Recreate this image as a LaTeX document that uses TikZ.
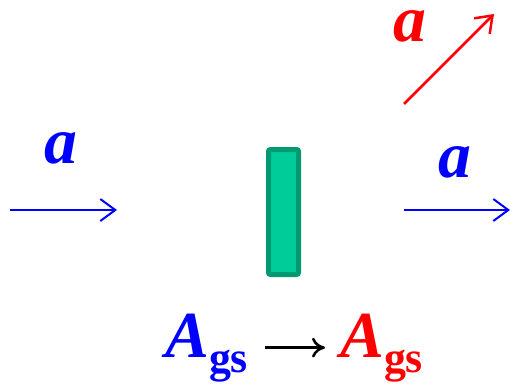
\documentclass[tikz,border=0pt]{standalone}
\usepackage{fontspec}
\setmainfont{Liberation Serif}
\usepackage{tikz}
\usetikzlibrary{arrows.meta,positioning}
\definecolor{slabfill}{HTML}{00CC99}
\definecolor{slabline}{HTML}{009970}

\begin{document}
\begin{tikzpicture}[
      x=1bp, y=-1bp,
      amp/.style={inner sep=0pt, font=\fontsize{66}{70}\selectfont\bfseries\itshape},
      wave/.style={amp, anchor=base, text height=33bp, text depth=0pt},
      ray/.style={-{Straight Barb[length=15bp, width=22bp]}, line width=2bp},
      slab/.style={draw=slabline, fill=slabfill, line width=5bp, rounded corners=2bp},
      gain/.style={-{To[length=13bp, width=20bp]}, line width=2.5bp, shorten <=17bp, shorten >=15bp}]
    \useasboundingbox (0,0) rectangle (510,383);
    % incoming and outgoing waves
    \coordinate (inA)  at (10,210);
    \coordinate (inB)  at (117,210);
    \coordinate (outA) at (404,210);
    \coordinate (outB) at (510,210);
    \coordinate (refA) at (404,104);
    \coordinate (refB) at (494,14);
    \draw[ray, blue] (inA) -- (inB);
    \draw[ray, blue] (outA) -- (outB);
    \draw[ray, red, line width=2.5bp] (refA) -- (refB);
    \node[wave, blue] (ain)  at (61,163) {a};
    \node[wave, blue] (aout) at (455,177) {a};
    \node[wave, red]  (aref) at (410,41) {a};
    % the sample
    \node[slab, minimum width=30bp, minimum height=125bp, inner sep=0pt] (sample) at (283.5,212) {};
    % gs amplitude before and after
    \node[amp, blue, anchor=base west] (agsin) at (165,357)
      {A\raisebox{-15bp}{\fontsize{44}{44}\selectfont\upshape gs}};
    \node[amp, red, anchor=base west] (agsout) at (340,357)
      {A\raisebox{-15bp}{\fontsize{44}{44}\selectfont\upshape gs}};
    \draw[gain] (agsin) -- (agsout);
  \end{tikzpicture}
\end{document}
